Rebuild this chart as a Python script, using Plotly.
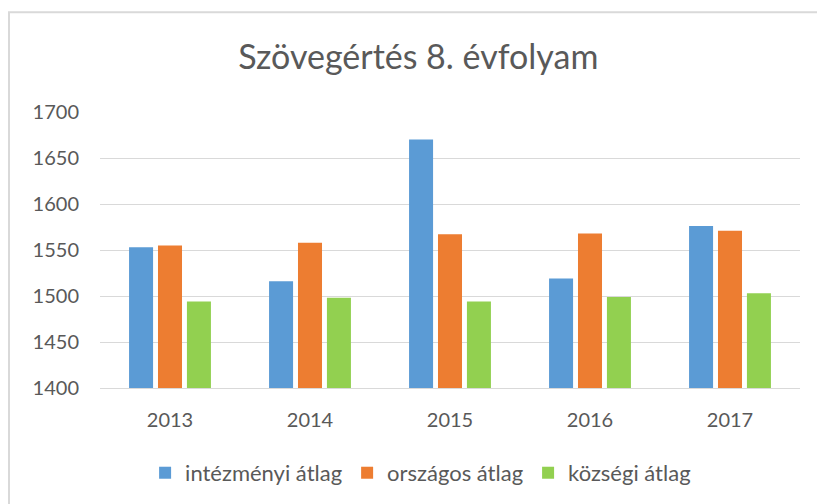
import plotly.graph_objects as go

years = ["2013", "2014", "2015", "2016", "2017"]
intezmenyi = [1553, 1516, 1670, 1519, 1576]
orszagos = [1555, 1558, 1567, 1568, 1571]
kozsegi = [1494, 1498, 1494, 1499, 1503]
series_names = ["intézményi átlag", "országos átlag", "községi átlag"]
colors = ["#5B9BD5", "#ED7D31", "#92D050"]
title_text = "Szövegértés 8. évfolyam"

fig = go.Figure()
for name, vals, col in zip(series_names, [intezmenyi, orszagos, kozsegi], colors):
    fig.add_trace(go.Bar(x=years, y=vals, name=name, marker=dict(color=col, line=dict(width=0))))

fig.update_layout(
    width=817, height=504,
    margin=dict(l=100, r=17, t=112, b=115),
    paper_bgcolor="white", plot_bgcolor="white",
    font=dict(family="Lato, sans-serif", color="#595959", size=20),
    title=dict(text=title_text, x=0.512, xanchor="center", y=0.887, yanchor="middle",
               font=dict(size=34, color="#595959")),
    barmode="group", bargap=0.38, bargroupgap=0.17,
    showlegend=True,
    legend=dict(orientation="h", x=0.458, xanchor="center", y=-0.303, yanchor="middle",
                font=dict(size=22, color="#595959"), itemwidth=30, traceorder="normal"),
    xaxis=dict(showgrid=False, showline=True, linecolor="#D9D9D9", linewidth=1,
               ticks="", ticklabelstandoff=14, tickfont=dict(size=20)),
    yaxis=dict(range=[1400, 1700], dtick=50, showgrid=True, gridcolor="#D9D9D9", gridwidth=1,
               zeroline=False, showline=False, ticks="", ticklabelstandoff=20,
               tickfont=dict(size=20)),
    shapes=[dict(type="rect", xref="paper", yref="paper",
                 x0=(9 - 100) / 700, x1=1.2, y0=-0.6, y1=(389 - 12) / 277,
                 line=dict(color="#D9D9D9", width=2), fillcolor="rgba(0,0,0,0)", layer="below")],
)

fig.write_html("out.html", config={"displayModeBar": False},
               post_script="document.body.style.margin='0';document.body.style.overflow='hidden';")
